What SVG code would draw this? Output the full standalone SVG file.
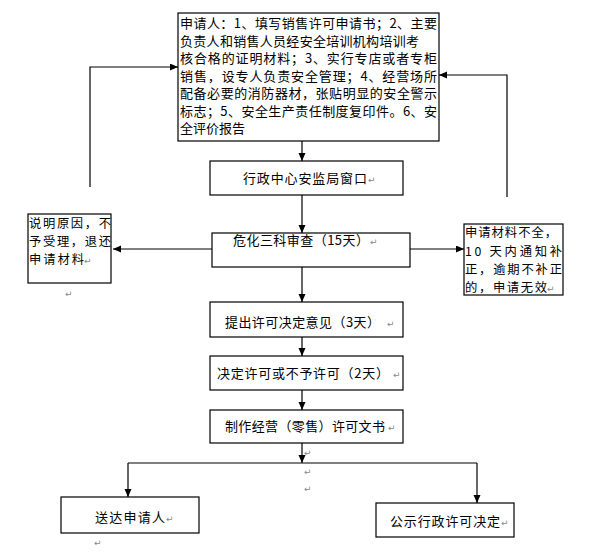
<svg xmlns="http://www.w3.org/2000/svg" width="603" height="553" viewBox="0 0 603 553">
<style>
.box{fill:#fff;stroke:#000;stroke-width:1.2}
.t{font-family:"Noto Sans CJK SC","Noto Sans CJK JP",sans-serif;font-size:13px;fill:#000}
.s{font-size:12.3px}
.m{font-family:"DejaVu Sans",sans-serif;font-size:9px;fill:#888}
.ln{fill:none;stroke:#000;stroke-width:1.2}
</style>
<defs>
<marker id="ah" markerUnits="userSpaceOnUse" markerWidth="9" markerHeight="8" refX="8" refY="3.5" orient="auto">
<path d="M0,0 L8,3.5 L0,7 z" fill="#000"/>
</marker>
</defs>
<rect width="603" height="553" fill="#fff"/>
<g id="connectors">
<path class="ln" d="M302,141 V161" marker-end="url(#ah)"/>
<path class="ln" d="M302,195 V233" marker-end="url(#ah)"/>
<path class="ln" d="M302,267 V302" marker-end="url(#ah)"/>
<path class="ln" d="M302,337 V356" marker-end="url(#ah)"/>
<path class="ln" d="M302,390 V410" marker-end="url(#ah)"/>
<path class="ln" d="M302,443 V463" marker-end="url(#ah)"/>
<path class="ln" d="M128,463 H477"/>
<path class="ln" d="M128,463 V497" marker-end="url(#ah)"/>
<path class="ln" d="M477,463 V503" marker-end="url(#ah)"/>
<path class="ln" d="M212,249 H113" marker-end="url(#ah)"/>
<path class="ln" d="M410,249 H464" marker-end="url(#ah)"/>
<path class="ln" d="M90,187 V67 H178" marker-end="url(#ah)"/>
<path class="ln" d="M507,197 V75 H439" marker-end="url(#ah)"/>
</g>
<g id="node-apply">
<rect class="box" x="178" y="13" width="261" height="128"/>
<text class="t" x="180" y="28" textLength="257" lengthAdjust="spacing">申请人：1、填写销售许可申请书；2、主要</text>
<text class="t" x="180" y="45.5" textLength="239" lengthAdjust="spacing">负责人和销售人员经安全培训机构培训考</text>
<text class="t" x="180" y="63" textLength="257" lengthAdjust="spacing">核合格的证明材料；3、实行专店或者专柜</text>
<text class="t" x="180" y="80.5" textLength="257" lengthAdjust="spacing">销售，设专人负责安全管理；4、经营场所</text>
<text class="t" x="180" y="98" textLength="257" lengthAdjust="spacing">配备必要的消防器材，张贴明显的安全警示</text>
<text class="t" x="180" y="115.5" textLength="257" lengthAdjust="spacing">标志；5、安全生产责任制度复印件。6、安</text>
<text class="t" x="180" y="133" textLength="65" lengthAdjust="spacing">全评价报告</text>
</g>
<g id="node-window">
<rect class="box" x="210" y="161" width="193" height="34"/>
<text class="t" x="243" y="183" textLength="124" lengthAdjust="spacing">行政中心安监局窗口</text>
<text class="m" x="368" y="183">↵</text>
</g>
<g id="node-review">
<rect class="box" x="212" y="233" width="198" height="34"/>
<text class="t" x="233" y="245" textLength="136" lengthAdjust="spacing">危化三科审查（15天）</text>
<text class="m" x="370" y="245">↵</text>
</g>
<g id="node-reject">
<rect class="box" x="28" y="214" width="83" height="69"/>
<text class="t s" x="29" y="228" textLength="82" lengthAdjust="spacing">说明原因，不</text>
<text class="t s" x="29" y="246" textLength="82" lengthAdjust="spacing">予受理，退还</text>
<text class="t s" x="29" y="264" textLength="55" lengthAdjust="spacing">申请材料</text>
<text class="m" x="84" y="264">↵</text>
<text class="m" x="65" y="297">↵</text>
</g>
<g id="node-incomplete">
<rect class="box" x="464" y="224" width="99" height="71"/>
<text class="t s" x="465" y="237" textLength="92" lengthAdjust="spacing">申请材料不全，</text>
<text class="t s" x="465" y="255.5" textLength="97" lengthAdjust="spacing">10 天内通知补</text>
<text class="t s" x="465" y="274" textLength="97" lengthAdjust="spacing">正，逾期不补正</text>
<text class="t s" x="465" y="292" textLength="82" lengthAdjust="spacing">的，申请无效</text>
<text class="m" x="547" y="292">↵</text>
</g>
<g id="node-opinion">
<rect class="box" x="210" y="302" width="193" height="35"/>
<text class="t" x="225" y="327" textLength="155" lengthAdjust="spacing">提出许可决定意见（3天）</text>
<text class="m" x="387" y="327">↵</text>
</g>
<g id="node-decide">
<rect class="box" x="210" y="356" width="193" height="34"/>
<text class="t" x="217" y="378" textLength="172" lengthAdjust="spacing">决定许可或不予许可（2天）</text>
<text class="m" x="393" y="378">↵</text>
</g>
<g id="node-document">
<rect class="box" x="210" y="410" width="193" height="33"/>
<text class="t" x="225" y="431" textLength="160" lengthAdjust="spacing">制作经营（零售）许可文书</text>
<text class="m" x="388" y="431">↵</text>
</g>
<text class="m" x="304" y="456">↵</text>
<text class="m" x="304" y="475">↵</text>
<text class="m" x="304" y="492">↵</text>
<g id="node-deliver">
<rect class="box" x="61" y="497" width="138" height="36"/>
<text class="t" x="95" y="522" textLength="70" lengthAdjust="spacing">送达申请人</text>
<text class="m" x="166" y="522">↵</text>
<text class="m" x="94" y="546">↵</text>
</g>
<g id="node-publish">
<rect class="box" x="376" y="503" width="138" height="34"/>
<text class="t" x="390" y="526" textLength="110" lengthAdjust="spacing">公示行政许可决定</text>
<text class="m" x="501" y="526">↵</text>
</g>
</svg>
